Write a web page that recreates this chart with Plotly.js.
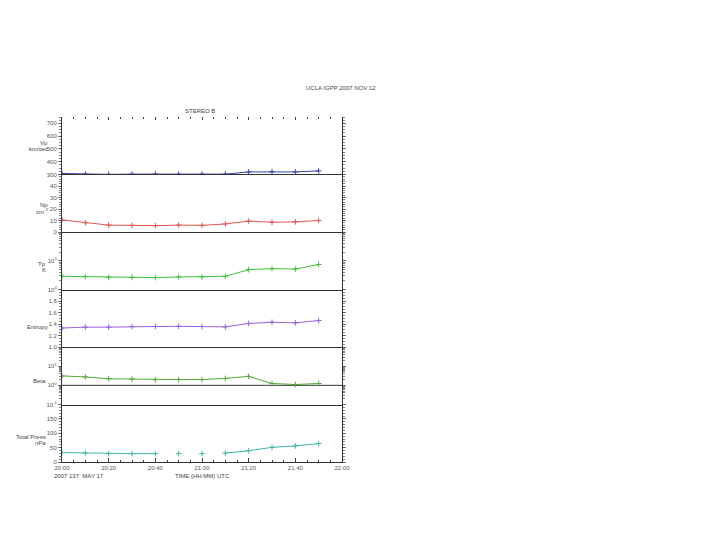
<!DOCTYPE html>
<html><head><meta charset="utf-8">
<script src="https://cdn.plot.ly/plotly-3.0.1.min.js"></script>
<style>html,body{margin:0;padding:0;background:#fff}#chart{width:720px;height:540px}</style>
</head><body><div id="chart"></div>
<script>
// ---- data ----
const times = ['2007-05-17 20:00','2007-05-17 20:10','2007-05-17 20:20','2007-05-17 20:30',
  '2007-05-17 20:40','2007-05-17 20:50','2007-05-17 21:00','2007-05-17 21:10',
  '2007-05-17 21:20','2007-05-17 21:30','2007-05-17 21:40','2007-05-17 21:50'];
const vp      = [308, 303, 301, 303, 303, 302, 303, 303, 320, 322, 320, 328];
const np      = [10.5, 8, 6, 5.8, 5.5, 6, 5.8, 7, 9.5, 8.5, 8.8, 10];
const tp      = [28800, 28000, 26500, 26500, 25900, 27300, 27300, 28800, 49000, 53000, 51500, 74000];
const entropy = [1.33, 1.345, 1.345, 1.356, 1.356, 1.36, 1.356, 1.35, 1.41, 1.43, 1.42, 1.46];
const beta    = [3.1, 2.75, 2.2, 2.1, 1.97, 2.0, 2.0, 2.3, 2.95, 1.25, 1.1, 1.25];
const pressTimes = ['2007-05-17 20:00','2007-05-17 20:10','2007-05-17 20:20','2007-05-17 20:30',
  '2007-05-17 20:40','2007-05-17 20:45','2007-05-17 20:50','2007-05-17 20:55','2007-05-17 21:00',
  '2007-05-17 21:05','2007-05-17 21:10','2007-05-17 21:20','2007-05-17 21:30','2007-05-17 21:40',
  '2007-05-17 21:50'];
const pressure = [33, 31, 29, 29, 29, null, 29, null, 29, null, 31, 39, 51, 56, 64];
const betaRefTimes = ['2007-05-17 20:00','2007-05-17 22:00'];
const betaRef = [1, 1];
const timeRange = ['2007-05-17 20:00','2007-05-17 22:00'];

const vpTicks = [300, 400, 500, 600, 700];
const npTicks = [0, 10, 20, 30, 40];
const tpTickVals = [1e4, 1e5];
const tpTickText = ['10<sup>4</sup>', '10<sup>5</sup>'];
const entTicks = [1.0, 1.2, 1.4, 1.6, 1.8];
const betaTickVals = [0.1, 1, 10];
const betaTickText = ['10<sup>-1</sup>', '10<sup>0</sup>', '10<sup>1</sup>'];
const pressTicks = [0, 50, 100, 150];

const colors = {vp:'#3b3fa8', np:'#e05555', tp:'#3cc03c', ent:'#9a5ee0', beta:'#55a838', press:'#3fb5a2'};

function tr(x, y, ax, color) {
  return {x:x, y:y, xaxis:'x'+(ax===1?'':ax), yaxis:'y'+(ax===1?'':ax), type:'scatter',
    mode:'lines+markers', connectgaps:false, line:{color:color, width:1},
    marker:{symbol:'cross-thin', size:4, color:color, line:{color:color, width:1}},
    hoverinfo:'skip', showlegend:false};
}
const data = [
  tr(times, vp, 1, colors.vp),
  tr(times, np, 2, colors.np),
  tr(times, tp, 3, colors.tp),
  tr(times, entropy, 4, colors.ent),
  {x:betaRefTimes, y:betaRef, xaxis:'x5', yaxis:'y5', type:'scatter', mode:'lines',
   line:{color:'#333', width:1}, hoverinfo:'skip', showlegend:false},
  tr(times, beta, 5, colors.beta),
  tr(pressTimes, pressure, 6, colors.press)
];

const n = 6;
function dom(i) { return [(n - i) / n, (n - i + 1) / n]; }
const tickFont = {family:'Liberation Sans, Arial, sans-serif', size:6, color:'#555'};
function yax(i, extra) {
  return Object.assign({domain:dom(i), anchor:'x'+(i===1?'':i), showline:true, mirror:'ticks',
    linecolor:'#333', linewidth:1, ticks:'outside', ticklen:3, tickcolor:'#555', tickwidth:0.8,
    tickfont:tickFont, showgrid:false, zeroline:false, fixedrange:true, ticklabelstandoff:0}, extra);
}
function xax(i, extra) {
  return Object.assign({type:'date', anchor:'y'+(i===1?'':i), range:timeRange,
    showgrid:false, zeroline:false, fixedrange:true, showline:true, mirror:false,
    linecolor:'#333', linewidth:1, ticks:'', showticklabels:false}, i===1?{}:{matches:'x'}, extra);
}

const layout = {
  width:720, height:540, paper_bgcolor:'#fff', plot_bgcolor:'#fff',
  margin:{l:62, r:378, t:117, b:78},
  font:{family:'Liberation Sans, Arial, sans-serif', size:6, color:'#555'},
  showlegend:false,
  xaxis: xax(1, {side:'top', showline:false, ticks:'inside', ticklen:3,
    tickcolor:'#444', dtick:1200000, tick0:'2007-05-17 20:00',
    minor:{ticks:'inside', ticklen:2, dtick:300000, tickcolor:'#444'}}),
  xaxis2: xax(2, {mirror:true}), xaxis3: xax(3), xaxis4: xax(4), xaxis5: xax(5),
  xaxis6: xax(6, {ticks:'inside', ticklen:4, tickcolor:'#444', dtick:1200000,
    tick0:'2007-05-17 20:00', tickformat:'%H:%M', showticklabels:true, tickfont:tickFont,
    ticklabelstandoff:0,
    minor:{ticks:'inside', ticklen:2, dtick:300000, tickcolor:'#444'}}),
  yaxis: yax(1, {range:[300, 750], tickmode:'array', tickvals:vpTicks,
    minor:{ticks:'outside', ticklen:2, dtick:25, tickcolor:'#666'}}),
  yaxis2: yax(2, {range:[0, 50], tickmode:'array', tickvals:npTicks,
    minor:{ticks:'outside', ticklen:2, dtick:2, tickcolor:'#666'}}),
  yaxis3: yax(3, {type:'log', range:[4, 6], tickmode:'array', tickvals:tpTickVals, ticktext:tpTickText,
    minor:{ticks:'outside', ticklen:2, dtick:'D1', tickcolor:'#666'}}),
  yaxis4: yax(4, {range:[1.0, 2.0], tickmode:'array', tickvals:entTicks, tickformat:'.1f',
    minor:{ticks:'outside', ticklen:2, dtick:0.05, tickcolor:'#666'}}),
  yaxis5: yax(5, {type:'log', range:[-1, 2], tickmode:'array', tickvals:betaTickVals, ticktext:betaTickText,
    minor:{ticks:'outside', ticklen:2, dtick:'D1', tickcolor:'#666'}}),
  yaxis6: yax(6, {range:[0, 200], tickmode:'array', tickvals:pressTicks,
    minor:{ticks:'outside', ticklen:2, dtick:10, tickcolor:'#666'}}),
  annotations: []
};

function note(text, x, y, anchor) {
  layout.annotations.push({text:text, xref:'paper', yref:'paper', x:x, y:y,
    xanchor:anchor||'left', yanchor:'middle', showarrow:false,
    font:{family:'Liberation Sans, Arial, sans-serif', size:6, color:'#444'}});
}
// pixel -> paper helpers (plot area 62..342 x, 117..462 y)
function px(x) { return (x - 62) / 280; }
function py(y) { return (462 - y) / 345; }
note('UCLA IGPP 2007 NOV 12', px(378), py(88), 'right');
note('STEREO B', px(200), py(111), 'center');
note('Vp', px(50), py(143), 'right');
note('km/sec', px(50), py(149), 'right');
note('Np', px(50), py(205), 'right');
note('cm<sup>-3</sup>', px(50), py(211), 'right');
note('Tp', px(48), py(264), 'right');
note('K', px(48), py(270), 'right');
note('Entropy', px(50), py(327), 'right');
note('Beta', px(48), py(381), 'right');
note('Total Press', px(48), py(437), 'right');
note('nPa', px(48), py(443), 'right');
note('2007 137  MAY 17', px(52), py(476));
note('TIME (HH:MM) UTC', px(202), py(476), 'center');

Plotly.newPlot('chart', data, layout, {staticPlot:true, displayModeBar:false});
</script>
</body></html>
